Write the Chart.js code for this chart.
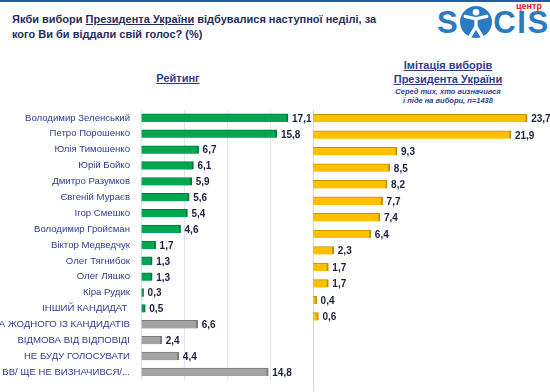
<!DOCTYPE html>
<html>
<head>
<meta charset="utf-8">
<script src="https://cdn.jsdelivr.net/npm/chart.js@4.4.1/dist/chart.umd.min.js"></script>
<style>
html,body{margin:0;padding:0;background:#fff;}
#wrap{position:relative;width:550px;height:392px;overflow:hidden;font-family:"Liberation Sans",Arial,sans-serif;}
.topline{position:absolute;left:0;top:0;width:550px;height:2px;background:#1f5fa8;}
.title{position:absolute;left:12px;top:12px;font-weight:bold;font-size:11px;color:#1f2d5a;line-height:15px;white-space:nowrap;}
.u{text-decoration:underline;}
.hdrL{position:absolute;left:128px;width:100px;top:72px;text-align:center;font-weight:bold;font-size:11px;color:#2f3d8f;text-decoration:underline;}
.hdrR{position:absolute;left:378px;width:140px;top:59px;text-align:center;font-weight:bold;font-size:11px;line-height:13.5px;color:#2f3d8f;}
.hdrR .u{text-decoration:underline;}
.sub{font-style:italic;font-size:7.5px;line-height:9px;font-weight:bold;margin-top:1px;}
.centr{position:absolute;left:516px;top:1px;color:#e0202a;font-weight:bold;font-size:9px;line-height:10px;}
.socis{position:absolute;left:437px;top:5px;color:#2a7bc4;font-weight:bold;font-size:31px;line-height:36px;letter-spacing:1.6px;white-space:nowrap;}
.socis svg{vertical-align:-6px;margin:0 1px;}
canvas{position:absolute;}
#cL{left:0;top:110px;}
#cR{left:312px;top:110px;}
</style>
</head>
<body>
<div id="wrap">
  <div class="topline"></div>
  <div class="title">Якби вибори <span class="u">Президента України</span> відбувалися наступної неділі, за<br>кого Ви би віддали свій голос? (%)</div>
  <div class="socis">S<svg width="32" height="34" viewBox="0 0 31 33"><circle cx="15.5" cy="16.5" r="15.5" fill="#2a7bc4"/><circle cx="15.5" cy="7" r="3.2" fill="#fff"/><path d="M5 11 L15.5 13.5 L26 11 M15.5 13 L15.5 21 M15.5 21 L10 30 M15.5 21 L21 30" stroke="#fff" stroke-width="3.2" fill="none" stroke-linecap="round"/></svg>CIS</div>
  <div class="centr">центр</div>
  <div class="hdrL">Рейтинг</div>
  <div class="hdrR"><span class="u">Імітація виборів </span><br><span class="u">Президента України</span><div class="sub">Серед тих, хто визначився<br>і піде на вибори, n=1438</div></div>
  <canvas id="cL" width="313" height="270"></canvas>
  <canvas id="cR" width="238" height="281"></canvas>
</div>
<script>
// ---- data ----
const candidates = ["Володимир Зеленський","Петро Порошенко","Юлія Тимошенко","Юрій Бойко","Дмитро Разумков","Євгеній Мураєв","Ігор Смешко","Володимир Гройсман","Віктор Медведчук","Олег Тягнибок","Олег Ляшко","Кіра Рудик","ІНШИЙ КАНДИДАТ "];
const otherAnswers = ["ЗА ЖОДНОГО ІЗ КАНДИДАТІВ","ВІДМОВА ВІД ВІДПОВІДІ","НЕ БУДУ ГОЛОСУВАТИ","ВВ/ ЩЕ НЕ ВИЗНАЧИВСЯ/..."];
const ratingCandidates = [17.1,15.8,6.7,6.1,5.9,5.6,5.4,4.6,1.7,1.3,1.3,0.3,0.5];
const ratingOther = [6.6,2.4,4.4,14.8];
const imitation = [23.7,21.9,9.3,8.5,8.2,7.7,7.4,6.4,2.3,1.7,1.7,0.4,0.6];

const categories = candidates.concat(otherAnswers);
const rating = ratingCandidates.concat(ratingOther);
const imitationAll = imitation.concat(otherAnswers.map(() => null));

const GREEN = '#00a651', GREEN_D = '#007a3b';
const GRAY = '#a3a3a3', GRAY_D = '#7b7b7b';
const YEL = '#ffc000', YEL_D = '#c39100';
const isCand = (i) => i < candidates.length;

const valueLabels = {
  id: 'valueLabels',
  afterDatasetsDraw(chart) {
    const ctx = chart.ctx;
    ctx.save();
    ctx.font = 'bold 10px "Liberation Sans", Arial, sans-serif';
    ctx.fillStyle = '#1a1f3d';
    ctx.textBaseline = 'middle';
    ctx.textAlign = 'left';
    chart.getDatasetMeta(0).data.forEach((el, i) => {
      const v = chart.data.datasets[0].data[i];
      if (v === null || v === undefined) return;
      ctx.fillText(v.toFixed(1).replace('.', ','), el.x + 4, el.y + 1);
    });
    ctx.restore();
  }
};

const common = {
  indexAxis: 'y',
  responsive: false,
  animation: false,
  events: [],
  plugins: { legend: { display: false }, tooltip: { enabled: false } }
};

function noPad(s) { s.paddingTop = 0; s.paddingBottom = 0; }

new Chart(document.getElementById('cL'), {
  type: 'bar',
  data: {
    labels: categories,
    datasets: [{
      data: rating,
      backgroundColor: categories.map((c, i) => isCand(i) ? GREEN : GRAY),
      borderColor: categories.map((c, i) => isCand(i) ? GREEN_D : GRAY_D),
      borderWidth: { top: 1, right: 2, bottom: 0, left: 0 },
      borderSkipped: false,
      barThickness: 8
    }]
  },
  options: Object.assign({}, common, {
    layout: { padding: 0 },
    scales: {
      x: {
        min: 0, max: 20,
        ticks: { display: false, stepSize: 5 },
        grid: { color: '#dfe2ef', drawTicks: false },
        border: { display: false },
        afterFit(s) { s.height = 0; s.paddingLeft = 0; s.paddingRight = 0; }
      },
      y: {
        ticks: { color: '#2f3d8f', padding: 11, font: { size: 9.6, family: '"Liberation Sans", Arial, sans-serif' } },
        grid: { display: false, drawTicks: false },
        border: { display: false },
        afterFit(s) { s.width = 141; noPad(s); }
      }
    }
  }),
  plugins: [valueLabels]
});

new Chart(document.getElementById('cR'), {
  type: 'bar',
  data: {
    labels: categories,
    datasets: [{
      data: imitationAll,
      backgroundColor: YEL,
      borderColor: YEL_D,
      borderWidth: { top: 1, right: 2, bottom: 0, left: 0 },
      borderSkipped: false,
      barThickness: 8
    }]
  },
  options: Object.assign({}, common, {
    layout: { padding: { left: 1, right: 2, top: 0, bottom: 0 } },
    scales: {
      x: {
        min: 0, max: 26,
        ticks: { display: false },
        grid: { display: false, drawTicks: false },
        border: { display: false },
        afterFit(s) { s.height = 0; }
      },
      y: {
        ticks: { display: false },
        grid: { display: false, drawTicks: false },
        border: { display: true, color: '#d5d9ea', width: 1 },
        afterFit(s) { s.width = 0; }
      }
    }
  }),
  plugins: [valueLabels]
});
</script>
</body>
</html>
